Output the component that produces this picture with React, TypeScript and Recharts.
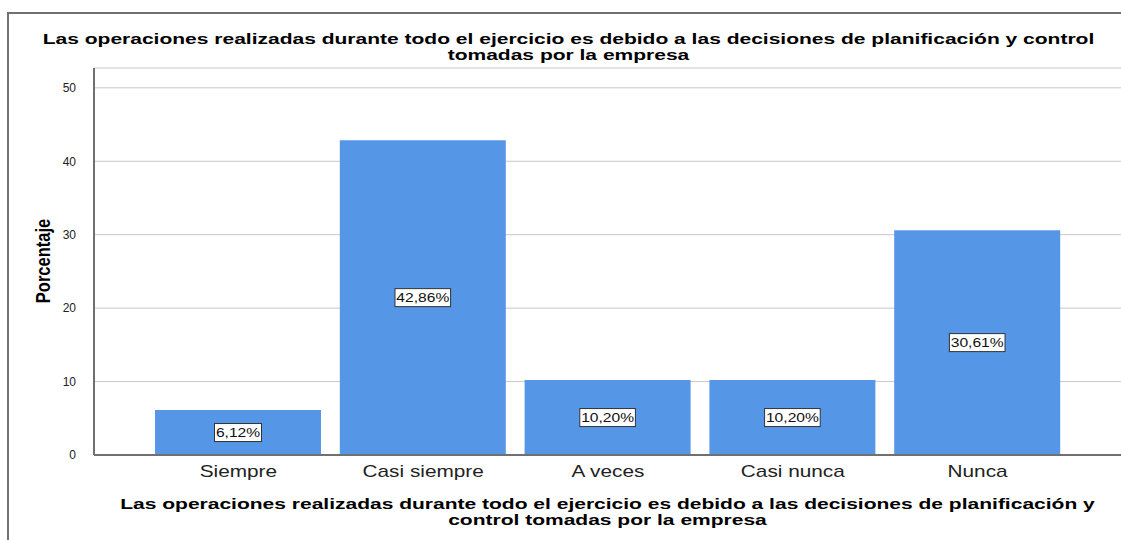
import { BarChart, Bar, XAxis, YAxis, CartesianGrid, LabelList } from 'recharts';

const categories = ['Siempre', 'Casi siempre', 'A veces', 'Casi nunca', 'Nunca'];
const percentages = [6.12, 42.86, 10.2, 10.2, 30.61];
const yTicks = [0, 10, 20, 30, 40, 50];

const title = 'Las operaciones realizadas durante todo el ejercicio es debido a las decisiones de planificación y control';
const titleLine2 = 'tomadas por la empresa';
const xTitle = 'Las operaciones realizadas durante todo el ejercicio es debido a las decisiones de planificación y';
const xTitleLine2 = 'control tomadas por la empresa';

const data = categories.map((name, i) => ({ name, value: percentages[i] }));

const font = "'Liberation Sans', Arial, sans-serif";
const fmt = (v: number) => v.toFixed(2).replace('.', ',') + '%';

const BoxLabel = (props: any) => {
    const { x, y, width, height, value } = props;
    const cx = x + width / 2;
    const cy = y + height / 2;
    const text = fmt(value);
    const w = text.length * 8.6 + 4;
    return (
        <g>
            <rect x={cx - w / 2} y={cy - 9} width={w} height={18} fill="#ffffff" stroke="#333333" strokeWidth={1} />
            <text transform={`translate(${cx},${cy + 4.5}) scale(1.25,1)`} textAnchor="middle" fontSize={12.5} fill="#111111" fontFamily={font}>
                {text}
            </text>
        </g>
    );
};

const XTick = (props: any) => {
    const { x, y, payload } = props;
    return (
        <text transform={`translate(${x},${y + 14}) scale(1.3,1)`} textAnchor="middle" fontSize={16} fill="#222222" fontFamily={font}>
            {payload.value}
        </text>
    );
};

export default function App() {
    return (
        <div style={{ position: 'fixed', left: 0, top: 0, width: 1121, height: 540, background: '#ffffff', overflow: 'hidden', fontFamily: font }}>
            <div style={{ position: 'absolute', left: 7, top: 12, width: 1200, height: 600, borderLeft: '2px solid #707070', borderTop: '2px solid #707070' }} />
            <div style={{ position: 'absolute', left: 0, top: 31, width: 1137, textAlign: 'center', fontWeight: 'bold', fontSize: 15, lineHeight: '15.5px', color: '#000', transform: 'scaleX(1.4)' }}>
                <div>{title}</div>
                <div>{titleLine2}</div>
            </div>
            <div style={{ position: 'absolute', left: 0, top: 496, width: 1215, textAlign: 'center', fontWeight: 'bold', fontSize: 15, lineHeight: '16px', color: '#000', transform: 'scaleX(1.4)' }}>
                <div>{xTitle}</div>
                <div>{xTitleLine2}</div>
            </div>
            <div style={{ position: 'absolute', left: 43, top: 261, transform: 'translate(-50%, -50%) rotate(-90deg) scaleY(1.2)', fontWeight: 'bold', fontSize: 16.5, whiteSpace: 'nowrap', color: '#000' }}>
                Porcentaje
            </div>
            <div style={{ position: 'absolute', left: 0, top: 0 }}>
                <BarChart width={1121} height={540} data={data} margin={{ top: 68, right: 0, bottom: 0, left: 0 }} barSize={166}>
                    <CartesianGrid vertical={false} stroke="#c8c8c8" />
                    <XAxis
                        dataKey="name"
                        padding={{ left: 52, right: 51 }}
                        tickLine={false}
                        axisLine={{ stroke: '#707070', strokeWidth: 2 }}
                        tick={<XTick />}
                        height={85}
                        interval={0}
                    />
                    <YAxis
                        type="number"
                        domain={[0, 52.7]}
                        ticks={yTicks}
                        width={94}
                        tickLine={false}
                        axisLine={{ stroke: '#707070', strokeWidth: 2 }}
                        tick={{ fontSize: 12, fill: '#222222', fontFamily: font }}
                        tickMargin={12}
                        interval={0}
                    />
                    <Bar dataKey="value" fill="#5596e6" isAnimationActive={false}>
                        <LabelList dataKey="value" content={BoxLabel} />
                    </Bar>
                </BarChart>
            </div>
        </div>
    );
}
